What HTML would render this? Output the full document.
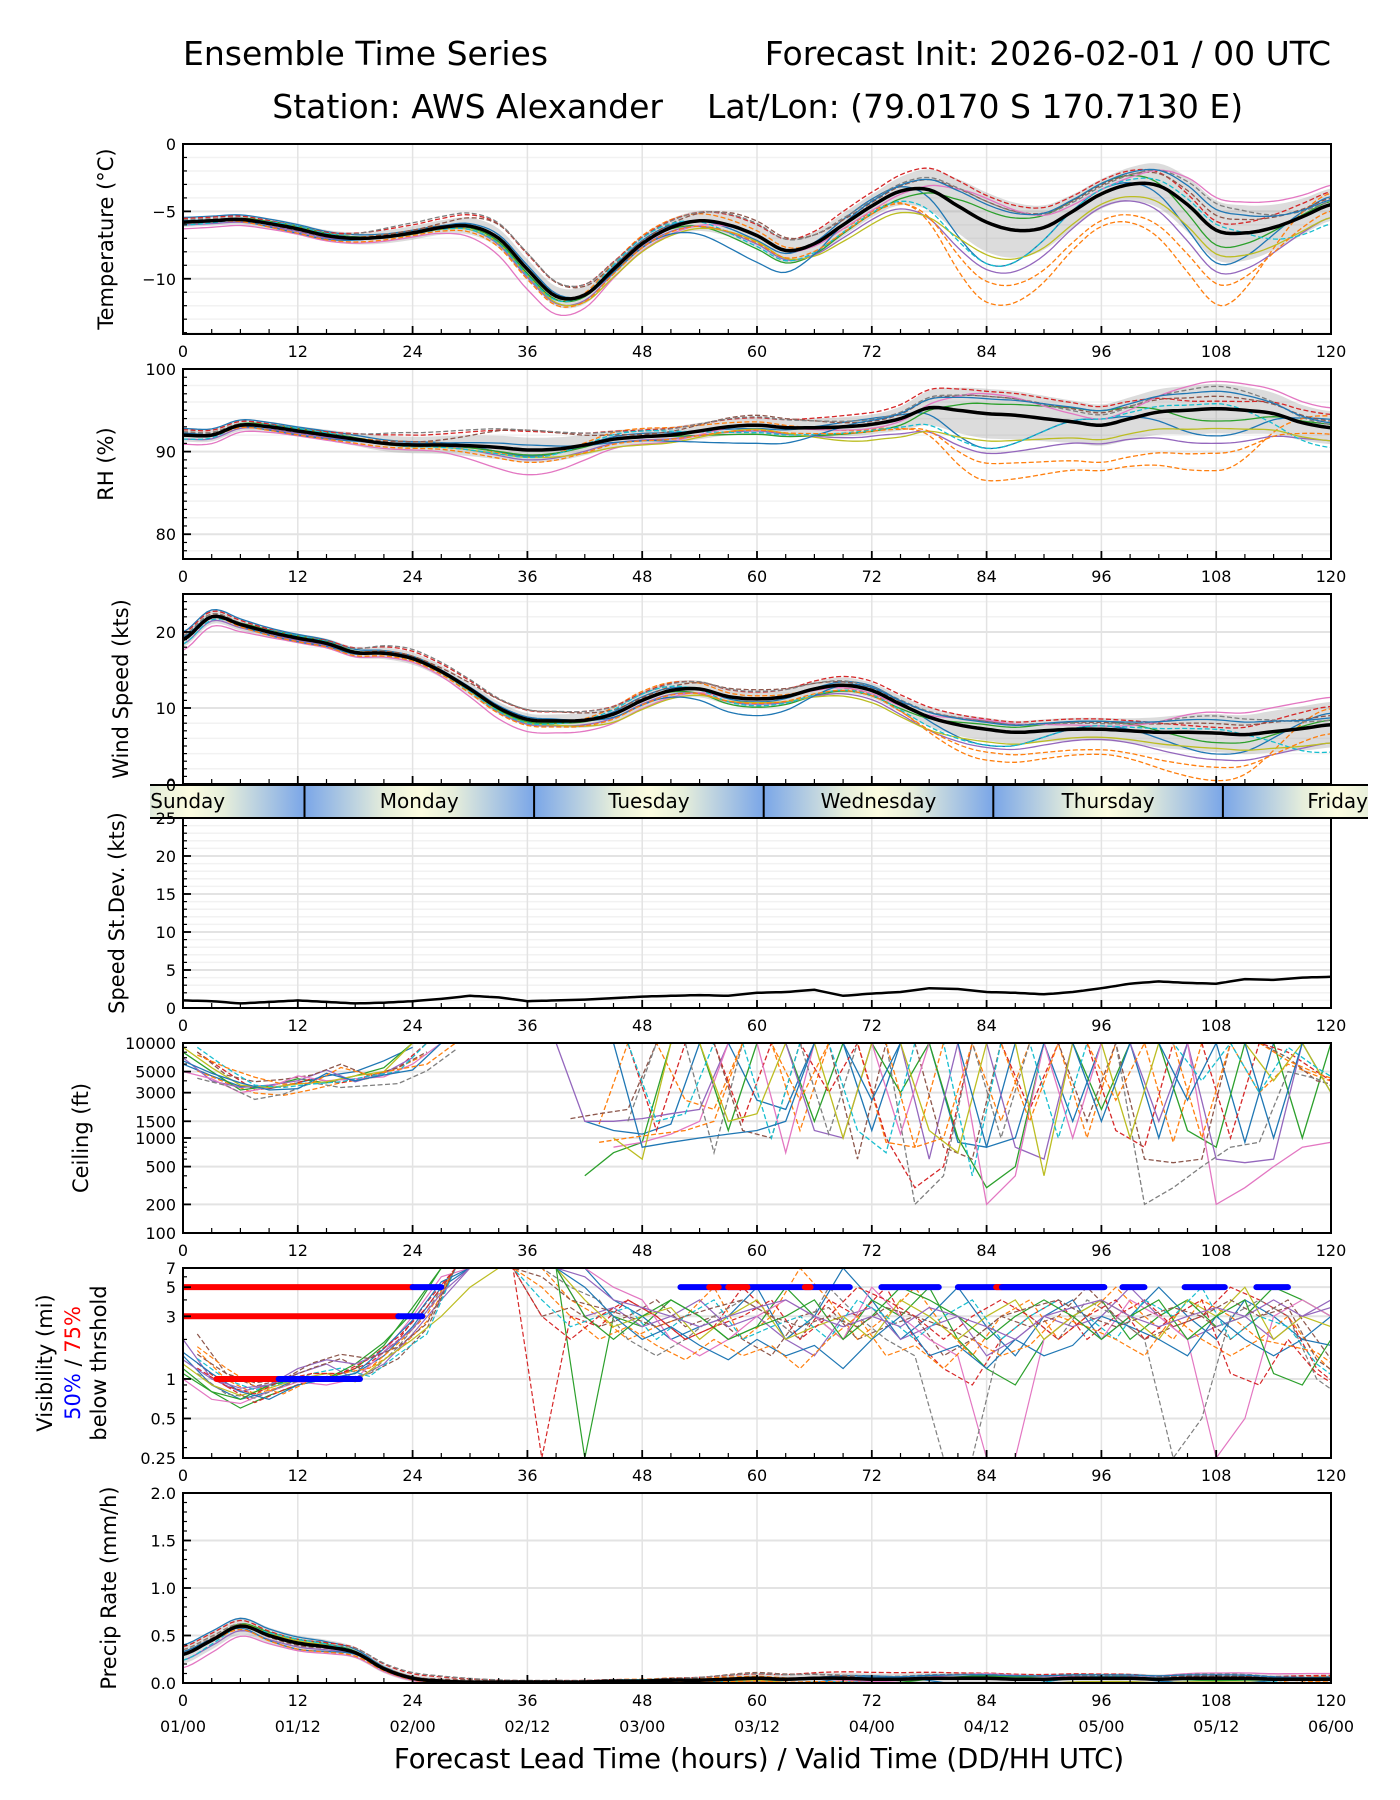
<!DOCTYPE html>
<html><head><meta charset="utf-8"><style>
html,body{margin:0;padding:0;background:#fff}
svg{display:block;font-family:"DejaVu Sans","Liberation Sans",sans-serif}
</style></head><body>
<svg id="fig" width="1400" height="1800" viewBox="0 0 1400 1800" xmlns="http://www.w3.org/2000/svg">
<text x="183" y="65" font-size="33">Ensemble Time Series</text>
<text x="1331" y="65" font-size="33" text-anchor="end">Forecast Init: 2026-02-01 / 00 UTC</text>
<text x="663" y="118" font-size="33" text-anchor="end">Station: AWS Alexander</text>
<text x="707" y="118" font-size="33">Lat/Lon: (79.0170 S 170.7130 E)</text>
<text x="759" y="1768" font-size="27.5" text-anchor="middle">Forecast Lead Time (hours) / Valid Time (DD/HH UTC)</text>
</svg>
<script>
// ---------- data (3-hourly, hours 0..120) ----------
const hours3 = [0,3,6,9,12,15,18,21,24,27,30,33,36,39,42,45,48,51,54,57,60,63,66,69,72,75,78,81,84,87,90,93,96,99,102,105,108,111,114,117,120];
const tempMean = [-5.8,-5.7,-5.6,-5.9,-6.3,-6.8,-7.0,-6.9,-6.6,-6.2,-6.1,-7.0,-9.3,-11.3,-11.2,-9.3,-7.4,-6.2,-5.7,-6.0,-6.8,-7.9,-7.4,-6.0,-4.6,-3.5,-3.4,-4.6,-5.8,-6.4,-6.2,-5.0,-3.7,-3.0,-3.1,-4.5,-6.4,-6.6,-6.2,-5.4,-4.5];
const rhMean = [92,92,93.2,93,92.5,92,91.5,91,90.8,90.8,90.7,90.5,90.2,90.3,90.8,91.5,91.8,92,92.5,93,93.2,92.9,92.9,93,93.3,94,95.3,95,94.6,94.4,94,93.6,93.2,94,94.8,95,95.2,95,94.6,93.5,92.9];
const windMean = [19,22,21,20,19.2,18.5,17.3,17.2,16.5,14.8,12.5,10,8.5,8.3,8.4,9.2,11,12.3,12.5,11.5,11.2,11.5,12.5,13,12.3,10.5,8.8,7.8,7.2,6.8,7.0,7.2,7.2,7.0,6.8,6.8,6.7,6.5,6.9,7.3,7.8];
const sdevVals = [1,0.9,0.6,0.8,1,0.8,0.6,0.7,0.9,1.2,1.6,1.4,0.9,1.0,1.1,1.3,1.5,1.6,1.7,1.6,2.0,2.1,2.4,1.6,1.9,2.1,2.6,2.5,2.1,2.0,1.8,2.1,2.6,3.2,3.5,3.3,3.2,3.8,3.7,4.0,4.1];
const precipMean = [0.3,0.45,0.6,0.5,0.42,0.38,0.32,0.15,0.05,0.02,0.01,0.01,0.01,0.01,0.01,0.02,0.02,0.03,0.03,0.04,0.05,0.04,0.05,0.05,0.04,0.04,0.05,0.05,0.05,0.04,0.04,0.05,0.05,0.05,0.04,0.05,0.05,0.05,0.04,0.04,0.04];
// 12-hourly spreads (hours 0..120)
const tempSpread = [0.35,0.4,0.5,0.75,0.6,0.9,0.85,2.2,1.1,2.2,1.2];
const rhSpread = [0.8,0.6,1.0,1.5,1.0,1.0,1.2,3,2.5,3,2];
const windSpread = [1,0.6,0.8,0.8,1.2,1,1,1.5,1.5,2.5,3];
const precipSpread = [0.1,0.08,0.04,0.01,0.02,0.05,0.06,0.06,0.05,0.05,0.05];
// member anomaly shapes (12-hourly, in spread units)
const m01=[0.8,0.5,1.2,1.5,0.8,0.9,1.2,0.9,0.9,0.3,0.8];
const m02=[0.5,0,0.4,-0.6,1.0,0.4,-0.5,-2.7,-2.2,-2.5,0.7];
const m03=[0,-0.8,-0.4,-1.0,-0.5,-0.6,-0.7,-2.0,-1.8,-1.8,-0.4];
const m04=[1.0,0.8,0.4,-0.5,0.4,-0.4,0.6,-1.4,0.3,-1.1,0.5];
const m05=[-0.6,-0.5,0,-0.8,-0.4,-0.7,-1.2,-1.6,-0.9,-1.4,-0.8];
const m06=[0,0.3,-0.2,-0.6,-1.0,-0.5,-1.6,-1.1,-0.7,-0.8,-0.8];
const m07=[0.3,-0.8,0.2,0.4,-0.5,-2.2,0.4,0.6,0.7,0.7,0.3];
const m08=[0.5,0,1.5,1.6,0.7,1.0,0.5,0.7,0.5,0.9,0.2];
const m09=[-0.6,0.5,-0.2,-0.6,0.7,-0.9,-0.6,-1.4,0.3,0.2,-1.2];
const m10=[0.3,-0.3,0.4,1.6,0.3,1.2,0.3,0.7,0.6,0.5,0.4];
const m11=[-1.4,-1.0,-0.6,-2.0,-0.9,0,-0.4,0.8,0.3,1.1,1.2];
const m12=[0,0.5,0,-0.4,0,-1.1,-0.7,0.4,0.7,-0.5,0.2];
const memberShapes=[m04,m02,m12,m01,m05,m10,m11,m08,m06,m09,m07,m03];
// ceiling members (ft, 0 = no ceiling)
const c1=[6000,4500,3500,3300,3800,4500,5000,6500,9000,0,0,0,0,0,1500,1200,1100,1400,10000,10000,2500,2000,10000,10000,1200,10000,10000,900,800,10000,10000,1500,10000,10000,1000,10000,10000,900,10000,10000,3000];
const c2=[8000,5000,3200,3500,4200,3800,4500,5500,10000,10000,0,0,0,0,400,700,900,10000,10000,1200,10000,10000,1500,10000,10000,3000,10000,1000,300,500,10000,10000,2000,10000,10000,1200,800,10000,10000,1000,10000];
const c3=[7000,4000,3400,3600,4000,5200,3900,4800,7000,0,0,0,0,10000,1500,1500,1600,1800,2000,10000,10000,10000,1200,1000,10000,10000,600,10000,10000,800,600,10000,10000,10000,1500,10000,600,550,600,10000,10000];
const c4=[5000,4200,3000,3400,4500,4000,4200,4400,6000,10000,0,0,0,0,0,800,900,1100,1500,10000,10000,700,10000,10000,10000,1100,10000,10000,200,400,10000,1000,10000,10000,10000,10000,200,300,500,800,900];
const c5=[9000,5500,3600,3400,3700,3900,4500,5000,10000,0,0,0,0,0,0,1000,600,10000,10000,1500,1800,10000,10000,1000,10000,10000,1200,700,10000,10000,400,10000,10000,1000,10000,10000,10000,10000,4000,10000,3000];
const c6=[6500,4800,3800,3200,3300,4800,4000,4600,5200,10000,0,0,0,0,10000,10000,800,900,1000,1100,1200,1500,10000,10000,2500,10000,10000,10000,800,1000,10000,10000,1500,10000,10000,2500,10000,10000,1000,10000,10000];
const ceilMembers=[c1,c2,c3,c4,c5,c6];
// visibility members (mi)
const v1=[1.5,0.9,0.7,0.8,1.0,1.0,1.1,1.5,2.5,5,7,7,7,7,7,4,3,2,2.5,3,5,2,3,7,4,2,3,5,2.5,1.5,3,4,2,3,5,3,2,4,3,2,3];
const v2=[1.2,0.8,0.6,0.75,0.9,1.0,1.2,1.8,3.5,7,7,7,7,7,0.25,3,2.5,4,3,2,2.5,5,3,2,4,3,5,2,1.2,0.9,2,3,4,2,3,4,2.5,3,5,4,3];
const v3=[2,1.0,0.8,0.9,1.1,1.3,1.0,1.3,2.2,4,7,7,7,7,3,3.5,2.5,3,4,2.5,3,2,1.5,3,3.5,2,2.5,3,1.5,2,3,2.5,3,5,3,2,2.5,3,2,3,4];
const v4=[1.0,0.7,0.65,0.8,0.95,0.9,1.0,1.6,3,6,7,7,7,7,7,5,4,2,1.5,2,3,4,3,2,5,3,2,1.5,0.25,0.25,2,3,2,4,3,2,0.25,0.5,3,4,3];
const v5=[1.3,0.9,0.75,0.85,1.0,1.1,0.95,1.4,2,3,5,7,7,7,4,2.5,3,3.5,2,3,4,2,2.5,3,2,4,3,2,3,4,2,3,4,3,2,4,3,5,2,3,2.5];
const v6=[1.6,1.1,0.8,0.7,0.9,1.0,1.1,1.7,2.8,5.5,7,7,7,7,5,3,2,2.5,1.8,1.4,2,1.5,1.8,1.2,2,3,1.5,1.8,1.2,2,1.5,1.8,3,2.5,2,1.5,3,2,1.5,2,1.8];
const v7=[1.1,0.8,0.7,0.9,1.0,1.0,1.3,1.9,3.2,7,7,7,7,7,3,2,3,4,3,2,2.5,3,4,2,3,5,4,3,2,3,4,3,2,3,4,2,3,4,1.1,0.9,2];
const v8=[1.4,1.0,0.85,0.9,1.2,1.4,1.3,1.6,2.4,4.5,7,7,7,7,6,4,3.5,3,2.5,3,3.5,4,3,2.5,3,2.5,3.5,3,2.5,2,3,3.5,4,3,2.5,3,3.5,3,4,3,3.5];
const visMembers=[v1,v2,v3,v4,v5,v6,v7,v8];
// threshold exceedance segments
const visSegStart=[0,24,0,22.5,3.5,10,52,55,57,65,73,81,85,85.6,98.2,104.7,112.2];
const visSegEnd=[24,27,22.5,25,10,18.5,69.7,56,59,65.6,79,96.3,85.6,96.3,100.5,108.9,115.5];
const visSegVal=[5,5,3,3,1,1,5,5,5,5,5,5,5,5,5,5,5];
const visSegColor=['red','blue','red','blue','red','blue','blue','red','red','red','blue','blue','red','blue','blue','blue','blue'];
const xTicks=[0,12,24,36,48,60,72,84,96,108,120];
const dateLabels=['01/00','01/12','02/00','02/12','03/00','03/12','04/00','04/12','05/00','05/12','06/00'];
const dayNames=['Sunday','Monday','Tuesday','Wednesday','Thursday','Friday'];
const dayStart=[-11.3,12.7,36.7,60.7,84.7,108.7];

// ---------- helpers ----------
const NS='http://www.w3.org/2000/svg';
const svg=document.getElementById('fig');
const colors=['#1f77b4','#ff7f0e','#2ca02c','#d62728','#9467bd','#8c564b','#e377c2','#7f7f7f','#bcbd22','#17becf'];
const X0=183,X1=1331;
function xs(h){return X0+(X1-X0)*h/120;}
function mk(tag,attrs,parent){const e=document.createElementNS(NS,tag);for(const k in attrs)e.setAttribute(k,attrs[k]);(parent||svg).appendChild(e);return e;}
function interp3(arr,h){const f=h/3;let i=Math.floor(f);if(i>=arr.length-1)return arr[arr.length-1];const t=f-i;
 const p0=arr[Math.max(0,i-1)],p1=arr[i],p2=arr[i+1],p3=arr[Math.min(arr.length-1,i+2)];
 return 0.5*((2*p1)+(-p0+p2)*t+(2*p0-5*p1+4*p2-p3)*t*t+(-p0+3*p1-3*p2+p3)*t*t*t);}
function interp12(arr,h){const f=h/12;let i=Math.floor(f);if(i>=arr.length-1)return arr[arr.length-1];const t=f-i;const s=(1-Math.cos(Math.PI*t))/2;return arr[i]*(1-s)+arr[i+1]*s;}
function lin3(arr,h){const f=h/3;let i=Math.floor(f);if(i>=arr.length-1)return arr[arr.length-1];const t=f-i;return arr[i]*(1-t)+arr[i+1]*t;}

function panel(name,top,bot,ymin,ymax,majors,minors,ylabelLines,opts){
 opts=opts||{};
 const g=mk('g',{});
 
 
 const log=!!opts.log;
 const tr=v=>log?Math.log10(v):v;
 const ys=v=>bot-(bot-top)*(tr(v)-tr(ymin))/(tr(ymax)-tr(ymin));
 (opts.minorGrid||[]).forEach(v=>mk('line',{x1:X0,x2:X1,y1:ys(v),y2:ys(v),stroke:'#f2f2f2','stroke-width':1.5},g));
 xTicks.forEach(h=>mk('line',{x1:xs(h),x2:xs(h),y1:top,y2:bot,stroke:'#e3e3e3','stroke-width':1.5},g));
 majors.forEach(v=>mk('line',{x1:X0,x2:X1,y1:ys(v),y2:ys(v),stroke:'#e3e3e3','stroke-width':2},g));
 const plot=mk('g',{'clip-path':'url(#clip-'+name+')'},g);
 const cp=mk('clipPath',{id:'clip-'+name},g);mk('rect',{x:X0,y:top,width:X1-X0,height:bot-top},cp);
 for(let h=0;h<=120;h+=3){const maj=h%12===0;mk('line',{x1:xs(h),x2:xs(h),y1:bot,y2:bot-(maj?8:5),stroke:'#000','stroke-width':maj?1.8:1.2},g);}
 majors.forEach(v=>{mk('line',{x1:X0,x2:X0+8,y1:ys(v),y2:ys(v),stroke:'#000','stroke-width':1.8},g);
  const t=mk('text',{x:X0-7,y:ys(v)+6,'font-size':16,'text-anchor':'end'},g);t.textContent=(opts.fmt?opts.fmt(v):String(v)).replace('-','\u2212');});
 minors.forEach(v=>mk('line',{x1:X0,x2:X0+4,y1:ys(v),y2:ys(v),stroke:'#000','stroke-width':1.2},g));
 mk('rect',{x:X0,y:top,width:X1-X0,height:bot-top,fill:'none',stroke:'#000','stroke-width':2},g);
 if(!opts.noXLabels){xTicks.forEach(h=>{const t=mk('text',{x:xs(h),y:bot+23,'font-size':16,'text-anchor':'middle'},g);t.textContent=h;});}
 const cy=(top+bot)/2;
 ylabelLines.forEach((ln,i)=>{const x=ln.x;const t=mk('text',{x:x,y:cy,'font-size':21,'text-anchor':'middle',transform:'rotate(-90 '+x+' '+cy+')'},g);
  
  
  ln.parts.forEach(p=>{const s=mk('tspan',{fill:p[1]||'#000'},t);s.textContent=p[0];});});
 return {g:plot,ys:ys};
}
function pathFrom(pts){let d='';let pen=false;pts.forEach(p=>{if(p==null){pen=false;return;}d+=(pen?'L':'M')+p[0].toFixed(1)+' '+p[1].toFixed(1);pen=true;});return d;}
function ensemblePanel(P,name,mean,spread,clipLo,clipHi){
 const up=[],lo=[];
 for(let h=0;h<=120;h+=0.5){const m=interp3(mean,h),s=interp12(spread,h);up.push([xs(h),P.ys(Math.min(clipHi,m+s))]);lo.unshift([xs(h),P.ys(Math.max(clipLo,m-s))]);}
 const band=mk('path',{d:pathFrom(up)+pathFrom(lo).replace('M','L')+'Z',fill:'#9a9a9a','fill-opacity':0.35,stroke:'none'},P.g);
 
 
 memberShapes.forEach((shape,k)=>{const pts=[];
  for(let h=0;h<=120;h+=0.5){let v=interp3(mean,h)+interp12(shape,h)*interp12(spread,h);v=Math.max(clipLo,Math.min(clipHi,v));pts.push([xs(h),P.ys(v)]);}
  const p=mk('path',{d:pathFrom(pts),fill:'none',stroke:colors[k%10],'stroke-width':1.3,'stroke-dasharray':k%2?'5 2.5':'none'},P.g);
  
  });
 const pts=[];for(let h=0;h<=120;h+=0.5)pts.push([xs(h),P.ys(interp3(mean,h))]);
 const ml=mk('path',{d:pathFrom(pts),fill:'none',stroke:'#000','stroke-width':3.5},P.g);
 
 
}
function range(a,b,s){const r=[];for(let v=a;v<=b+1e-9;v+=s)r.push(+v.toFixed(3));return r;}

// ---------- panels ----------
const PT=panel('temperature',144,334,-14.1,0,[0,-5,-10],range(-14,0,1),[{x:113,parts:[['Temperature (°C)']]}],{minorGrid:range(-14,0,1)});
ensemblePanel(PT,'temperature',tempMean,tempSpread,-20,5);
const PR=panel('rh',369,559,77,100,[100,90,80],range(77,100,1),[{x:113,parts:[['RH (%)']]}],{minorGrid:range(78,100,2)});
ensemblePanel(PR,'rh',rhMean,rhSpread,60,100);
const PW=panel('wind',594,784,0,25,[0,10,20],range(0,25,1),[{x:128,parts:[['Wind Speed (kts)']]}],{noXLabels:true,minorGrid:range(0,25,2)});
ensemblePanel(PW,'wind',windMean,windSpread,0,30);
// day bar
(function(){const g=mk('g',{});
 const defs=mk('defs',{},g);const gr=mk('linearGradient',{id:'daygrad',x1:0,x2:1,y1:0,y2:0},defs);
 [[0,'#7aa6e8'],[0.35,'#e6eedb'],[0.5,'#fdfde0'],[0.65,'#e6eedb'],[1,'#7aa6e8']].forEach(s=>mk('stop',{offset:s[0],'stop-color':s[1]},gr));
 const cp=mk('clipPath',{id:'clipday'},g);mk('rect',{x:150,y:785,width:1218,height:33},cp);
 const inner=mk('g',{'clip-path':'url(#clipday)'},g);
 dayStart.forEach((d,i)=>{mk('rect',{x:xs(d),y:785,width:xs(d+24)-xs(d),height:33,fill:'url(#daygrad)'},inner);
  if(i>0)mk('line',{x1:xs(d),x2:xs(d),y1:785,y2:818,stroke:'#000','stroke-width':2},inner);
  const t=mk('text',{x:xs(d+12)+(i==0?-2:0),y:808,'font-size':20,'text-anchor':'middle'},g);t.textContent=dayNames[i];
  
  });
 mk('line',{x1:150,x2:1368,y1:785,y2:785,stroke:'#000','stroke-width':2},g);
 mk('line',{x1:150,x2:1368,y1:818,y2:818,stroke:'#000','stroke-width':2},g);
 const t0=mk('text',{x:X0-7,y:791,'font-size':16,'text-anchor':'end'},g);t0.textContent='0';
})();
const PS=panel('speed-stdev',818,1008,0,25,[0,5,10,15,20,25],range(0,25,1),[{x:124,parts:[['Speed St.Dev. (kts)']]}],{minorGrid:range(1,25,1)});
(function(){const pts=[];for(let h=0;h<=120;h+=0.5)pts.push([xs(h),PS.ys(lin3(sdevVals,h))]);
 const p=mk('path',{d:pathFrom(pts),fill:'none',stroke:'#000','stroke-width':2.5},PS.g);})();
const PC=panel('ceiling',1043,1233,100,10000,[100,200,500,1000,1500,3000,5000,10000],[300,400,600,700,800,900,2000,4000,6000,7000,8000,9000],[{x:88,parts:[['Ceiling (ft)']]}],{log:true});
ceilMembers.forEach((m,k)=>{[0,1].forEach(off=>{const pts=[];
 for(let i=0;i<m.length;i++){const v=m[(i+off*3)%m.length];const vv=off?(i<10?m[i]*(1+0.15*((k%3)-1)):v):m[i];
  if(!m[i]){pts.push(null);continue;}pts.push([xs(hours3[i]+(off?1.5:0)),PC.ys(Math.min(10000,Math.max(100,vv)))]);}
 const p=mk('path',{d:pathFrom(pts),fill:'none',stroke:colors[(k*2+off)%10],'stroke-width':1.3,'stroke-dasharray':off?'5 2.5':'none'},PC.g);
 
 });});
const PV=panel('visibility',1268,1458,0.25,7,[0.25,0.5,1,3,5,7],[0.3,0.4,0.6,0.7,0.8,0.9,2,4,6],[{x:52,parts:[['Visibility (mi)']]},{x:80,parts:[['50%','#0000ff'],[' / '],['75%','#ff0000']]},{x:106,parts:[['below thrshold']]}],{log:true});
visMembers.forEach((m,k)=>{[0,1].forEach(off=>{const pts=[];
 for(let i=0;i<m.length;i++){const v=off?m[(i+2)%m.length]:m[i];const vv=(i<9)?m[i]*(off?1.1:1):v;pts.push([xs(hours3[i]+(off?1.5:0)),PV.ys(Math.min(7.5,Math.max(0.2,vv)))]);}
 const p=mk('path',{d:pathFrom(pts),fill:'none',stroke:colors[(k*2+off)%10],'stroke-width':1.2,'stroke-dasharray':off?'5 2.5':'none'},PV.g);
 
 });});
visSegStart.forEach((s,i)=>{const y=PV.ys(visSegVal[i]);
 const l=mk('line',{x1:xs(s),x2:xs(visSegEnd[i]),y1:y,y2:y,stroke:visSegColor[i],'stroke-width':6,'stroke-linecap':'round'},PV.g);
 
 });
const PP=panel('precip',1493,1683,0,2,[0,0.5,1,1.5,2],range(0,2,0.1),[{x:116,parts:[['Precip Rate (mm/h)']]}],{fmt:v=>v.toFixed(1)});
ensemblePanel(PP,'precip',precipMean,precipSpread,0,2);
xTicks.forEach((h,i)=>{const t=mk('text',{x:xs(h),y:1732,'font-size':16,'text-anchor':'middle'});t.textContent=dateLabels[i];
 
 });
</script>
</body></html>
